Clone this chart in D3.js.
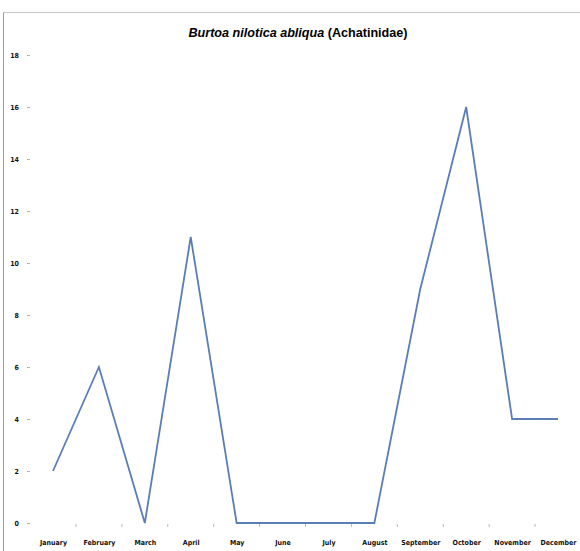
<!DOCTYPE html>
<html>
<head>
<meta charset="utf-8">
<script src="https://cdn.jsdelivr.net/npm/d3@7/dist/d3.min.js"></script>
<style>
  html, body { margin: 0; padding: 0; background: #fff; }
  svg { display: block; }
  text { font-family: "Liberation Sans Narrow", "DejaVu Sans Condensed", "Liberation Sans", sans-serif; }
</style>
</head>
<body>
<svg id="chart" width="580" height="551"></svg>
<script>
// Monthly counts of Burtoa nilotica abliqua
const months = ["January", "February", "March", "April", "May", "June",
                "July", "August", "September", "October", "November", "December"];
const counts = [2, 6, 0, 11, 0, 0, 0, 0, 9, 16, 4, 4];
const yTicks = [0, 2, 4, 6, 8, 10, 12, 14, 16, 18];

const svg = d3.select("#chart");
const W = 580, H = 551;

// frame lines (top and left)
svg.append("line").attr("x1", 3.5).attr("x2", W).attr("y1", 12.5).attr("y2", 12.5)
  .attr("stroke", "#c8c8c8").attr("stroke-width", 1);
svg.append("line").attr("x1", 3.5).attr("x2", 3.5).attr("y1", 12.5).attr("y2", H)
  .attr("stroke", "#9a9a9a").attr("stroke-width", 1);

const x = d3.scalePoint().domain(months).range([53, 558]);
const y = d3.scaleLinear().domain([0, 16]).range([523, 107]);

// title
const title = svg.append("text")
  .attr("x", 298).attr("y", 37)
  .attr("text-anchor", "middle")
  .attr("font-size", 12.6).attr("font-weight", "bold")
  .attr("fill", "#000")
  .style("font-family", "'Liberation Sans', Arial, sans-serif");
title.append("tspan").attr("font-style", "italic").text("Burtoa nilotica abliqua");
title.append("tspan").text(" (Achatinidae)");

// y axis: labels + short tick marks
const yAxis = d3.axisLeft(y).tickValues(yTicks).tickSize(3).tickPadding(8)
  .tickFormat(d3.format("d"));
const gy = svg.append("g").attr("transform", "translate(30,0)").call(yAxis);
gy.select(".domain").remove();
gy.selectAll(".tick line").attr("stroke", "#b0b0b0");
gy.selectAll(".tick text").attr("font-size", 7).attr("font-weight", "bold")
  .attr("fill", "#111");

// x axis: month labels, tick marks between categories
const step = x.step();
const gx = svg.append("g").attr("transform", "translate(0,523)")
  .call(d3.axisBottom(x).tickSize(0).tickPadding(17));
gx.select(".domain").remove();
gx.selectAll(".tick text").attr("font-size", 7).attr("font-weight", "bold")
  .attr("fill", "#111");
const bounds = months.slice(1).map(m => x(m) - step / 2);
svg.append("g").selectAll("line").data(bounds).join("line")
  .attr("x1", d => d).attr("x2", d => d)
  .attr("y1", 524).attr("y2", 527)
  .attr("stroke", "#b8b8b8").attr("stroke-width", 1);

// data line
const line = d3.line().x((d, i) => x(months[i])).y(d => y(d));
svg.append("path").datum(counts)
  .attr("d", line)
  .attr("fill", "none")
  .attr("stroke", "#5a7db5")
  .attr("stroke-width", 1.8)
  .attr("stroke-linejoin", "miter");
</script>
</body>
</html>
